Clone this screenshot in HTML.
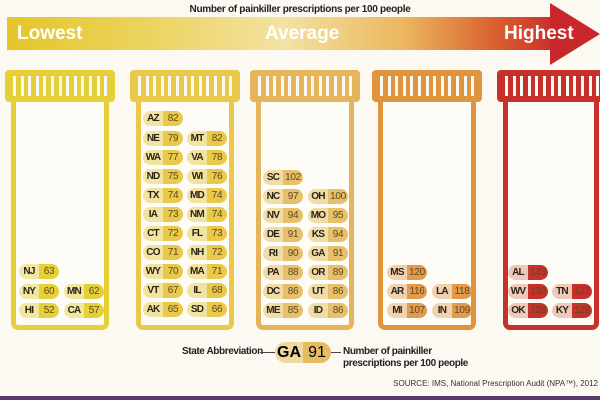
<!DOCTYPE html>
<html><head><meta charset="utf-8"><style>
body{margin:0;width:600px;height:400px;overflow:hidden;background:#fbf9f1;position:relative;font-family:"Liberation Sans",sans-serif}
.a{position:absolute;white-space:nowrap}
.cap{position:absolute;height:32px;border-radius:4px}
.cap i{position:absolute;top:6px;bottom:6px;width:3px;background:#fbf9f1}
.body{position:absolute;border:5px solid;border-top:none;border-radius:0 0 7px 7px;background:#fdfcf6}
.p{position:absolute;width:40px;height:15px;border-radius:7.5px;font-size:10px;line-height:15px;overflow:hidden;display:flex}
.p b{width:20px;text-align:center;color:#2a2418;font-weight:bold;letter-spacing:-0.8px}
.p span{flex:1;text-align:center;color:#5a4a20;letter-spacing:-0.3px}
</style></head><body>
<div class="a" style="left:0;top:4px;width:600px;text-align:center;font-size:10px;font-weight:bold;color:#222;letter-spacing:-0.3px">Number of painkiller prescriptions per 100 people</div>
<div class="a" style="left:7px;top:17px;width:555px;height:33px;background:linear-gradient(90deg,#e4c62a 0%,#ecd35e 25%,#f3e2a2 50%,#ebb55c 72%,#d9602f 88%,#c8282a 100%)"></div>
<svg class="a" style="left:550px;top:3px" width="50" height="62"><polygon points="0,0 50,31 0,62" fill="#c8282a"/></svg>
<div class="a" style="left:17px;top:23px;color:#fff;font-size:19px;font-weight:bold">Lowest</div>
<div class="a" style="left:265px;top:23px;color:#fff;font-size:19px;font-weight:bold">Average</div>
<div class="a" style="left:504px;top:23px;color:#fff;font-size:19px;font-weight:bold">Highest</div>
<div id="b"></div>
<div class="a" style="left:182px;top:346px;font-size:10px;font-weight:bold;color:#222;letter-spacing:-0.4px">State Abbreviation</div>
<div class="a" style="left:260px;top:352px;width:15px;height:1px;background:#444"></div>
<div class="a" style="left:275px;top:342px;width:56px;height:21px;border-radius:11px;overflow:hidden;display:flex;font-size:16px;line-height:21px"><b style="width:28px;background:#f0d9a0;text-align:center">GA</b><span style="flex:1;background:#e7bb63;text-align:center">91</span></div>
<div class="a" style="left:331px;top:352px;width:10px;height:1px;background:#444"></div>
<div class="a" style="left:343px;top:346px;font-size:10px;font-weight:bold;color:#222;line-height:12px;letter-spacing:-0.4px">Number of painkiller<br>prescriptions per 100 people</div>
<div class="a" style="right:2px;top:379px;font-size:8px;color:#333">SOURCE: IMS, National Prescription Audit (NPA™), 2012</div>
<div class="a" style="left:0;top:396px;width:600px;height:4px;background:#5a3a6a"></div>
<script>
var B=[
 {x:5,w:110,c:"#e6d03a",l:"#f2e7a0",d:"#e6d03a",rows:[[271,"NJ",63],[291,"NY",60,"MN",62],[310,"HI",52,"CA",57]],c1:19,c2:64},
 {x:130,w:110,c:"#e9c84a",l:"#f3e3a0",d:"#e9c84a",rows:[[118,"AZ",82],[138,"NE",79,"MT",82],[157,"WA",77,"VA",78],[176,"ND",75,"WI",76],[195,"TX",74,"MD",74],[214,"IA",73,"NM",74],[233,"CT",72,"FL",73],[252,"CO",71,"NH",72],[271,"WY",70,"MA",71],[290,"VT",67,"IL",68],[309,"AK",65,"SD",66]],c1:143,c2:187},
 {x:250,w:110,c:"#e6b45a",l:"#f1dca8",d:"#e8bf6a",rows:[[177,"SC",102],[196,"NC",97,"OH",100],[215,"NV",94,"MO",95],[234,"DE",91,"KS",94],[253,"RI",90,"GA",91],[272,"PA",88,"OR",89],[291,"DC",86,"UT",86],[310,"ME",85,"ID",86]],c1:263,c2:308},
 {x:372,w:110,c:"#e0943e",l:"#f1d2b0",d:"#e39a4c",rows:[[272,"MS",120],[291,"AR",116,"LA",118],[310,"MI",107,"IN",109]],c1:387,c2:432},
 {x:497,w:108,c:"#c8302c",l:"#eec8b8",d:"#c8302c",rows:[[272,"AL",143],[291,"WV",138,"TN",127],[310,"OK",128,"KY",128]],c1:508,c2:552}];
var h="";
B.forEach(function(b){
 h+='<div class="cap" style="left:'+b.x+'px;top:70px;width:'+b.w+'px;background:'+b.c+'">';
 for(var i=0;i<13;i++)h+='<i style="left:'+(8+i*7.6)+'px"></i>';
 h+='</div><div class="body" style="left:'+(b.x+6)+'px;top:102px;width:'+(b.w-22)+'px;height:223px;border-color:'+b.c+'"></div>';
 b.rows.forEach(function(r){
  var pill=function(x,s,v){return '<div class="p" style="left:'+x+'px;top:'+(r[0]-7)+'px"><b style="background:'+b.l+'">'+s+'</b><span style="background:'+b.d+'">'+v+'</span></div>'};
  h+=pill(b.c1,r[1],r[2]); if(r[3])h+=pill(b.c2,r[3],r[4]);
 });
});
document.getElementById("b").innerHTML=h;
</script>
</body></html>
